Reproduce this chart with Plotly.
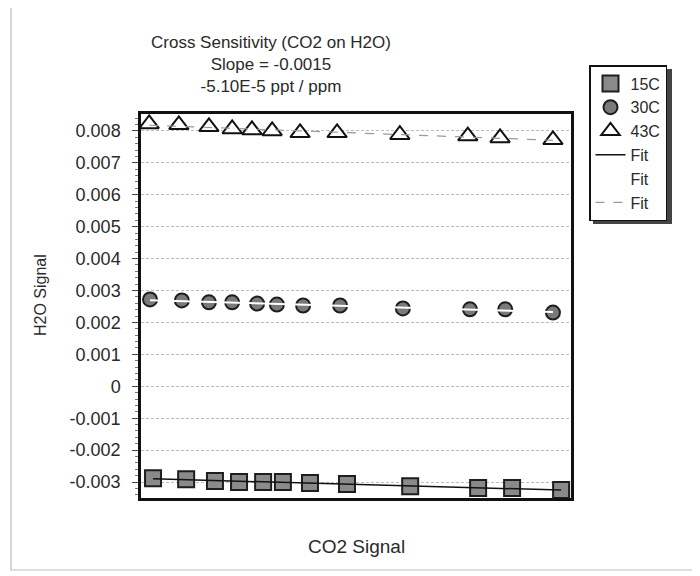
import numpy as np
import plotly.graph_objects as go

# ---- data (CO2 signal in arbitrary units 0..100) ----
x_15c = [2.8, 10.5, 17.2, 22.8, 28.4, 33.0, 39.3, 47.9, 62.6, 78.4, 86.3, 97.7]
y_15c = [-0.00288, -0.00291, -0.00297, -0.00300, -0.00300, -0.00300, -0.00303,
         -0.00306, -0.00313, -0.00319, -0.00319, -0.00325]

x_30c = [2.1, 9.5, 15.8, 21.2, 27.0, 31.6, 37.7, 46.3, 60.9, 76.5, 84.7, 95.8]
y_30c = [0.00272, 0.00269, 0.00263, 0.00263, 0.00259, 0.00256, 0.00253,
         0.00253, 0.00244, 0.00241, 0.00241, 0.00231]

x_43c = [1.9, 8.8, 15.8, 21.2, 25.8, 30.5, 37.0, 45.6, 60.2, 76.0, 83.5, 95.8]
y_43c = [0.00822, 0.00819, 0.00813, 0.00806, 0.00803, 0.00800, 0.00794,
         0.00794, 0.00788, 0.00784, 0.00778, 0.00772]

series_names = ["15C", "30C", "43C"]
title_lines = ["Cross Sensitivity (CO2 on H2O)", "Slope = -0.0015", "-5.10E-5 ppt / ppm"]
y_ticks = [0.008, 0.007, 0.006, 0.005, 0.004, 0.003, 0.002, 0.001, 0, -0.001, -0.002, -0.003]
y_ticktext = ["0.008", "0.007", "0.006", "0.005", "0.004", "0.003", "0.002", "0.001", "0",
              "-0.001", "-0.002", "-0.003"]


def fit_line(xs, ys):
    k, b = np.polyfit(xs, ys, 1)
    xx = [min(xs), max(xs)]
    return xx, [k * v + b for v in xx]


FONT = "Liberation Sans, Arial, sans-serif"
TXT = "#2a2a2a"

fig = go.Figure()

fig.add_trace(go.Scatter(x=x_15c, y=y_15c, mode="markers", name=series_names[0],
                         marker=dict(symbol="square", size=16, color="#8a8a8a",
                                     line=dict(color="#1e1e1e", width=2))))
fig.add_trace(go.Scatter(x=x_30c, y=y_30c, mode="markers", name=series_names[1],
                         marker=dict(symbol="circle", size=14, color="#7a7a7a",
                                     line=dict(color="#1e1e1e", width=2))))
fig.add_trace(go.Scatter(x=x_43c, y=y_43c, mode="markers", name=series_names[2],
                         marker=dict(symbol="triangle-up", size=17, color="white",
                                     line=dict(color="#111", width=2))))

fx, fy = fit_line(x_15c, y_15c)
fig.add_trace(go.Scatter(x=fx, y=fy, mode="lines", name="Fit",
                         line=dict(color="#111", width=1.5)))
fx, fy = fit_line(x_30c, y_30c)
fig.add_trace(go.Scatter(x=fx, y=fy, mode="lines", name="Fit",
                         line=dict(color="white", width=2)))
fx, fy = fit_line(x_43c, y_43c)
fig.add_trace(go.Scatter(x=fx, y=fy, mode="lines", name="Fit",
                         line=dict(color="#9a9a9a", width=1.2, dash="dash")))

# page has an 8px body margin: figure is 692x568 drawn at (8,8)
OFF = 8
W, H = 700 - OFF, 576 - OFF
PL, PR, PT, PB = 141, 571, 114, 498          # plot area in page pixels
L, T = PL - OFF, PT - OFF
R, B = W - (PR - OFF), H - (PB - OFF)
pw, ph = PR - PL, PB - PT


def px(xp):
    return (xp - PL) / pw


def py(yp):
    return (PB - yp) / ph


fig.update_layout(
    width=W, height=H,
    margin=dict(l=L, r=R, t=T, b=B),
    paper_bgcolor="white", plot_bgcolor="white",
    font=dict(family=FONT, size=16, color=TXT),
    showlegend=True,
    legend=dict(x=px(589), y=py(65), xanchor="left", yanchor="top",
                bgcolor="white", bordercolor="#111", borderwidth=1.5,
                font=dict(size=16, color=TXT), itemwidth=30,
                tracegroupgap=0),
    xaxis=dict(range=[0, 100], showticklabels=False, ticks="", showgrid=False,
               zeroline=False, showline=True, linecolor="#111", linewidth=2.5,
               mirror=True),
    yaxis=dict(range=[-0.0035, 0.00853], tickvals=y_ticks, ticktext=y_ticktext,
               ticks="outside", ticklen=6, tickcolor="#444", tickwidth=1,
               ticklabelstandoff=8,
               showgrid=True, gridcolor="#bdbdbd", griddash="3px,2px", gridwidth=1,
               zeroline=False, showline=True, linecolor="#111", linewidth=2.5,
               mirror=True, tickfont=dict(size=18, color=TXT),
               minor=dict(dtick=0.0002, ticks="outside", ticklen=3,
                          tickcolor="#777", showgrid=False)),
)

# title
fig.add_annotation(x=px(271), y=py(64), xref="paper", yref="paper",
                   text="<br>".join(title_lines), showarrow=False,
                   font=dict(size=17, color=TXT), align="center",
                   xanchor="center", yanchor="middle")
# axis titles
fig.add_annotation(x=px(356), y=py(546), xref="paper", yref="paper",
                   text="CO2 Signal", showarrow=False,
                   font=dict(size=19, color=TXT), xanchor="center", yanchor="middle")
fig.add_annotation(x=px(40), y=py(295), xref="paper", yref="paper",
                   text="H2O Signal", showarrow=False, textangle=-90,
                   font=dict(size=16, color=TXT), xanchor="center", yanchor="middle")

# outer thin border of the chart
fig.add_shape(type="rect", xref="paper", yref="paper",
              x0=px(11), x1=px(697), y0=py(570), y1=py(6),
              line=dict(color="#bdbdbd", width=1.2), layer="below")
# legend shadow
fig.add_shape(type="rect", xref="paper", yref="paper",
              x0=px(593), x1=px(672), y0=py(224), y1=py(69),
              line=dict(color="#444", width=0), fillcolor="#444", layer="above")

fig.write_html("out.html")
